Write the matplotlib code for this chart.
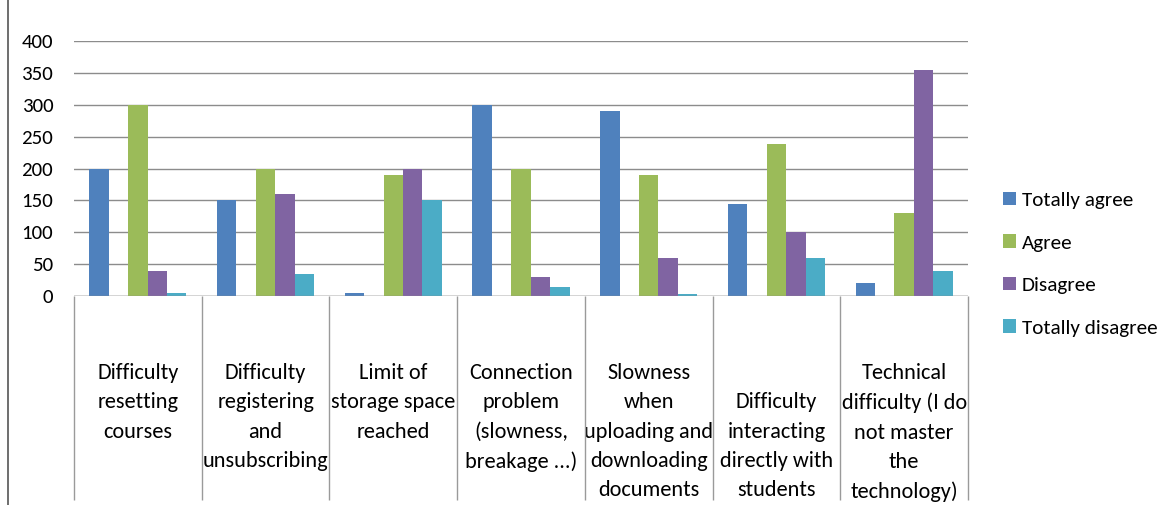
import numpy as np
import matplotlib.pyplot as plt
from matplotlib import font_manager
from matplotlib.lines import Line2D

# pick a narrow, Calibri-like face if one is installed
available = {f.name for f in font_manager.fontManager.ttflist}
face = 'Liberation Sans'
for cand in ['Carlito', 'Liberation Sans Narrow', 'Roboto Condensed',
             'Open Sans Condensed', 'DejaVu Sans Condensed']:
    if cand in available:
        face = cand
        break
plt.rcParams['font.family'] = [face, 'DejaVu Sans']

categories = ["Difficulty\nresetting\ncourses",
              "Difficulty\nregistering\nand\nunsubscribing",
              "Limit of\nstorage space\nreached",
              "Connection\nproblem\n(slowness,\nbreakage ...)",
              "Slowness\nwhen\nuploading and\ndownloading\ndocuments",
              "\nDifficulty\ninteracting\ndirectly with\nstudents",
              "Technical\ndifficulty (I do\nnot master\nthe\ntechnology)"]
series = ["Totally agree", "Agree", "Disagree", "Totally disagree"]
totally_agree = [200, 150, 4, 300, 290, 144, 20]
agree = [300, 200, 190, 200, 190, 238, 130]
disagree = [39, 160, 200, 30, 60, 100, 355]
totally_disagree = [4, 34, 150, 14, 3, 60, 40]
yticks = [0, 50, 100, 150, 200, 250, 300, 350, 400]

colors = ["#4F81BD", "#9BBB59", "#8064A2", "#4BACC6"]
values = [totally_agree, agree, disagree, totally_disagree]
slots = [-2, 0, 1, 2]   # empty slot between "Totally agree" and "Agree"

k = 1.0 if face != 'Liberation Sans' else 0.88
lab_size = 16 * k

fig = plt.figure(figsize=(11.68, 5.05), dpi=100)
ax = fig.add_axes([74/1168, 209/505, 894/1168, 255/505])

x = np.arange(len(categories))
w = 0.152
for vals, c, s, name in zip(values, colors, slots, series):
    ax.bar(x + s*w, vals, w, color=c, label=name, zorder=3)

ax.set_xlim(-0.5, 6.5)
ax.set_ylim(0, 400)
ax.set_yticks(yticks)
ax.yaxis.grid(True, color="#8c8c8c", lw=1, zorder=0)
for sp in ax.spines.values():
    sp.set_visible(False)
ax.axhline(0, color="#8c8c8c", lw=1, zorder=4)
ax.tick_params(axis='y', length=0, pad=15, labelsize=15 * k)

ax.set_xticks(x)
ax.set_xticklabels(categories, fontsize=lab_size, linespacing=1.57, multialignment='center')
ax.tick_params(axis='x', length=0, pad=48.5)

# category separators below the axis
ax.vlines(np.arange(-0.5, 7, 1), -320, 0, color="#9a9a9a", lw=1, clip_on=False)

# left border
fig.add_artist(Line2D([8/1168, 8/1168], [0, 1], color="#555555", lw=1.2))

fig.legend(loc='upper left', bbox_to_anchor=(984/1168, 1 - 173/505),
           frameon=False, fontsize=15.2 * k, handlelength=0.6, handleheight=0.6,
           handletextpad=0.3, labelspacing=1.2)

fig.savefig("out.png", dpi=100)
